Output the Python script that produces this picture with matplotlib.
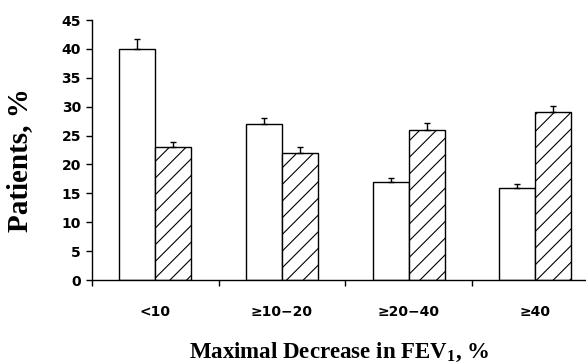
import matplotlib.pyplot as plt
import numpy as np

plt.rcParams['hatch.linewidth'] = 0.8
plt.rcParams['mathtext.fontset'] = 'custom'
plt.rcParams['mathtext.bf'] = 'Liberation Serif:bold'
plt.rcParams['mathtext.rm'] = 'Liberation Serif:bold'

categories = ["<10", "\u226510\u221220", "\u226520\u221240", "\u226540"]
open_vals = [40.0, 27.0, 17.0, 16.0]
open_err = [1.7, 1.0, 0.7, 0.7]
hatch_vals = [23.0, 22.0, 26.0, 29.0]
hatch_err = [0.9, 1.0, 1.2, 1.2]
yticks = [0, 5, 10, 15, 20, 25, 30, 35, 40, 45]

fig = plt.figure(figsize=(5.86, 3.64), dpi=100)
ax = fig.add_axes([92/586, 1-280/364, 1-92/586, 260/364])

x = np.arange(len(categories)) + 0.5
w = 0.285
ax.bar(x - w/2, open_vals, w, color="white", edgecolor="black", linewidth=1.0,
       yerr=[np.zeros(4), open_err], capsize=2.5, error_kw=dict(lw=1.0, capthick=1.0, ecolor="black"))
ax.bar(x + w/2, hatch_vals, w, color="white", edgecolor="black", linewidth=1.0, hatch="//",
       yerr=[np.zeros(4), hatch_err], capsize=2.5, error_kw=dict(lw=1.0, capthick=1.0, ecolor="black"))

ax.set_xlim(0, 3.9)
ax.set_ylim(0, 45)
ax.spines["top"].set_visible(False)
ax.spines["right"].set_visible(False)
ax.spines["left"].set_linewidth(1.0)
ax.spines["bottom"].set_linewidth(1.0)

tick_font = dict(fontfamily="DejaVu Sans", fontweight="bold", fontsize=10)
ax.set_yticks(yticks)
ax.set_yticklabels([str(t) for t in yticks], **tick_font)
ax.set_xticks([0, 1, 2, 3])
ax.set_xticklabels([])
ax.set_xticks(x, minor=True)
ax.set_xticklabels(categories, minor=True, **tick_font)
ax.tick_params(axis="x", which="minor", length=0, pad=18)
ax.tick_params(axis="y", which="major", pad=4)
ax.tick_params(axis="both", which="major", length=4, width=1.0, direction="out")

ax.set_ylabel("Patients, %", fontfamily="Liberation Serif", fontweight="bold", fontsize=21)
ax.yaxis.set_label_coords(-0.12, 0.46)
ax.set_xlabel(r"Maximal Decrease in FEV$_\mathbf{1}$, %", fontfamily="Liberation Serif",
              fontweight="bold", fontsize=16.5, labelpad=16)

fig.savefig("out.png", dpi=100)
